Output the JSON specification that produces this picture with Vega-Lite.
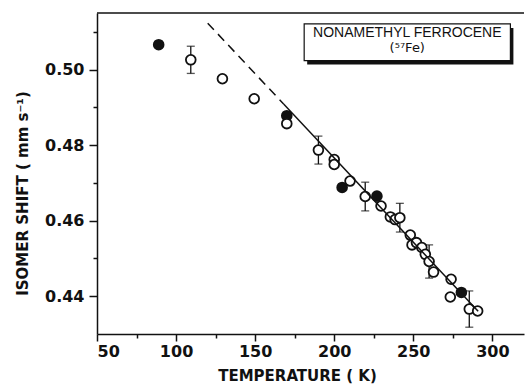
{
  "$schema": "https://vega.github.io/schema/vega-lite/v6.json",
  "width": 427,
  "height": 321,
  "autosize": {"type": "none"},
  "padding": {"left": 97, "top": 13, "right": 1, "bottom": 50},
  "background": "white",
  "config": {
    "view": {"stroke": null},
    "font": "Liberation Sans",
    "axis": {
      "domainColor": "#111",
      "domainWidth": 1.5,
      "tickColor": "#111",
      "tickWidth": 1.5,
      "labelColor": "#111",
      "labelFont": "DejaVu Sans",
      "labelFontWeight": "bold",
      "labelFontSize": 16,
      "titleColor": "#111",
      "titleFont": "DejaVu Sans",
      "titleFontWeight": "bold",
      "titleFontSize": 15,
      "grid": false
    }
  },
  "datasets": {
    "pts": [
      {"T": 89, "v": 0.5066, "kind": "filled"},
      {"T": 109.3, "v": 0.5026, "e": 0.0036, "kind": "open"},
      {"T": 129.3, "v": 0.4976, "kind": "open"},
      {"T": 149.4, "v": 0.4923, "kind": "open"},
      {"T": 170, "v": 0.4878, "kind": "filled"},
      {"T": 170, "v": 0.4857, "kind": "open"},
      {"T": 190, "v": 0.4787, "e": 0.0037, "kind": "open"},
      {"T": 200, "v": 0.4762, "kind": "open"},
      {"T": 200, "v": 0.4749, "kind": "open"},
      {"T": 205, "v": 0.4688, "kind": "filled"},
      {"T": 210, "v": 0.4705, "kind": "open"},
      {"T": 219.6, "v": 0.4664, "e": 0.0038, "kind": "open"},
      {"T": 227, "v": 0.4665, "kind": "filled"},
      {"T": 229.6, "v": 0.4639, "kind": "open"},
      {"T": 235.5, "v": 0.4610, "kind": "open"},
      {"T": 238.5, "v": 0.4603, "kind": "open"},
      {"T": 241.5, "v": 0.4608, "e": 0.0038, "kind": "open"},
      {"T": 248.1, "v": 0.4562, "kind": "open"},
      {"T": 249.2, "v": 0.4536, "kind": "open"},
      {"T": 252, "v": 0.4542, "kind": "open"},
      {"T": 255.4, "v": 0.4529, "kind": "open"},
      {"T": 257.6, "v": 0.4511, "kind": "open"},
      {"T": 260, "v": 0.4492, "e": 0.0044, "kind": "open"},
      {"T": 262.8, "v": 0.4464, "kind": "open"},
      {"T": 273.9, "v": 0.4445, "kind": "open"},
      {"T": 273.4, "v": 0.4398, "kind": "open"},
      {"T": 280.4, "v": 0.4410, "kind": "filled"},
      {"T": 285.4, "v": 0.4366, "e": 0.0048, "kind": "open"},
      {"T": 290.7, "v": 0.4361, "kind": "open"}
    ],
    "fit": [
      {"T": 120, "v": 0.5123, "part": "dashed"},
      {"T": 168, "v": 0.4909, "part": "dashed"},
      {"T": 168, "v": 0.4909, "part": "solid"},
      {"T": 291, "v": 0.4360, "part": "solid"}
    ],
    "frame": [{"x1": 50, "x2": 320, "y": 0.515}],
    "box": [{"x1": 181, "x2": 311.4, "y1": 0.5024, "y2": 0.5121}],
    "labels": [
      {"x": 246.2, "y": 0.5098, "line": 1, "text": "NONAMETHYL FERROCENE"},
      {"x": 246.2, "y": 0.5058, "line": 2, "text": "(⁵⁷Fe)"}
    ]
  },
  "layer": [
    {
      "data": {"name": "frame"},
      "mark": {"type": "rule", "color": "#111", "strokeWidth": 1.5},
      "encoding": {
        "x": {"field": "x1", "type": "quantitative", "scale": {"domain": [50, 320], "nice": false, "zero": false}, "axis": null},
        "x2": {"field": "x2"},
        "y": {"field": "y", "type": "quantitative", "scale": {"domain": [0.43, 0.515], "nice": false, "zero": false}, "axis": null}
      }
    },
    {
      "data": {"name": "pts"},
      "transform": [{"filter": "isValid(datum.e)"}],
      "mark": {"type": "errorbar", "color": "#111", "thickness": 1.3, "ticks": {"size": 8, "thickness": 1.3, "color": "#111"}},
      "encoding": {
        "x": {"field": "T", "type": "quantitative", "scale": {"domain": [50, 320], "nice": false, "zero": false}, "axis": null},
        "y": {"field": "v", "type": "quantitative", "scale": {"domain": [0.43, 0.515], "nice": false, "zero": false}, "axis": null},
        "yError": {"field": "e"}
      }
    },
    {
      "data": {"name": "pts"},
      "transform": [{"filter": "datum.kind == 'filled'"}],
      "mark": {"type": "point", "shape": "circle", "filled": true, "color": "#111", "size": 135, "opacity": 1},
      "encoding": {
        "x": {"field": "T", "type": "quantitative", "scale": {"domain": [50, 320], "nice": false, "zero": false}, "axis": null},
        "y": {"field": "v", "type": "quantitative", "scale": {"domain": [0.43, 0.515], "nice": false, "zero": false}, "axis": null}
      }
    },
    {
      "data": {"name": "pts"},
      "transform": [{"filter": "datum.kind == 'open'"}],
      "mark": {"type": "point", "shape": "circle", "filled": false, "fill": "white", "fillOpacity": 1, "stroke": "#111", "strokeWidth": 1.8, "size": 95, "opacity": 1},
      "encoding": {
        "x": {
          "field": "T", "type": "quantitative",
          "scale": {"domain": [50, 320], "nice": false, "zero": false},
          "axis": {
            "orient": "bottom",
            "values": [50, 100, 150, 200, 250, 300],
            "tickSize": 7,
            "labelPadding": 2,
            "title": "TEMPERATURE ( K)",
            "titleX": 200,
            "titleY": 46,
            "titleBaseline": "alphabetic",
            "titleAlign": "center"
          }
        },
        "y": {
          "field": "v", "type": "quantitative",
          "scale": {"domain": [0.43, 0.515], "nice": false, "zero": false},
          "axis": {
            "orient": "left",
            "values": [0.44, 0.46, 0.48, 0.50],
            "format": ".2f",
            "tickSize": 8,
            "labelPadding": 5,
            "title": "ISOMER SHIFT ( mm s⁻¹)",
            "titleX": -70,
            "titleY": 180,
            "titleAngle": -90,
            "titleBaseline": "alphabetic",
            "titleAlign": "center"
          }
        }
      }
    },
    {
      "data": {"name": "fit"},
      "transform": [{"filter": "datum.part == 'dashed'"}],
      "mark": {"type": "line", "color": "#111", "strokeWidth": 1.5, "strokeDash": [9, 6]},
      "encoding": {
        "x": {"field": "T", "type": "quantitative", "scale": {"domain": [50, 320], "nice": false, "zero": false},
          "axis": {"orient": "bottom", "values": [75, 125, 175, 225, 275], "tickSize": 4, "labels": false, "domain": false, "title": null}},
        "y": {"field": "v", "type": "quantitative", "scale": {"domain": [0.43, 0.515], "nice": false, "zero": false},
          "axis": {"orient": "left", "values": [0.45, 0.47, 0.49, 0.51], "tickSize": 4, "labels": false, "domain": false, "title": null}}
      }
    },
    {
      "data": {"name": "fit"},
      "transform": [{"filter": "datum.part == 'solid'"}],
      "mark": {"type": "line", "color": "#111", "strokeWidth": 1.5},
      "encoding": {
        "x": {"field": "T", "type": "quantitative", "scale": {"domain": [50, 320], "nice": false, "zero": false}, "axis": null},
        "y": {"field": "v", "type": "quantitative", "scale": {"domain": [0.43, 0.515], "nice": false, "zero": false}, "axis": null}
      }
    },
    {
      "data": {"name": "box"},
      "mark": {"type": "rect", "color": "#111", "xOffset": 3, "yOffset": 4, "x2Offset": 3, "y2Offset": 4},
      "encoding": {
        "x": {"field": "x1", "type": "quantitative", "scale": {"domain": [50, 320], "nice": false, "zero": false}, "axis": null},
        "x2": {"field": "x2"},
        "y": {"field": "y1", "type": "quantitative", "scale": {"domain": [0.43, 0.515], "nice": false, "zero": false}, "axis": null},
        "y2": {"field": "y2"}
      }
    },
    {
      "data": {"name": "box"},
      "mark": {"type": "rect", "fill": "white", "stroke": "#111", "strokeWidth": 1.2},
      "encoding": {
        "x": {"field": "x1", "type": "quantitative", "scale": {"domain": [50, 320], "nice": false, "zero": false}, "axis": null},
        "x2": {"field": "x2"},
        "y": {"field": "y1", "type": "quantitative", "scale": {"domain": [0.43, 0.515], "nice": false, "zero": false}, "axis": null},
        "y2": {"field": "y2"}
      }
    },
    {
      "data": {"name": "labels"},
      "transform": [{"filter": "datum.line == 1"}],
      "mark": {"type": "text", "font": "Liberation Sans", "fontSize": 14, "color": "#111", "align": "center", "baseline": "middle"},
      "encoding": {
        "x": {"field": "x", "type": "quantitative", "scale": {"domain": [50, 320], "nice": false, "zero": false}, "axis": null},
        "y": {"field": "y", "type": "quantitative", "scale": {"domain": [0.43, 0.515], "nice": false, "zero": false}, "axis": null},
        "text": {"field": "text"}
      }
    },
    {
      "data": {"name": "labels"},
      "transform": [{"filter": "datum.line == 2"}],
      "mark": {"type": "text", "font": "DejaVu Sans", "fontSize": 13, "color": "#111", "align": "center", "baseline": "middle"},
      "encoding": {
        "x": {"field": "x", "type": "quantitative", "scale": {"domain": [50, 320], "nice": false, "zero": false}, "axis": null},
        "y": {"field": "y", "type": "quantitative", "scale": {"domain": [0.43, 0.515], "nice": false, "zero": false}, "axis": null},
        "text": {"field": "text"}
      }
    }
  ],
  "resolve": {"axis": {"x": "independent", "y": "independent"}}
}
